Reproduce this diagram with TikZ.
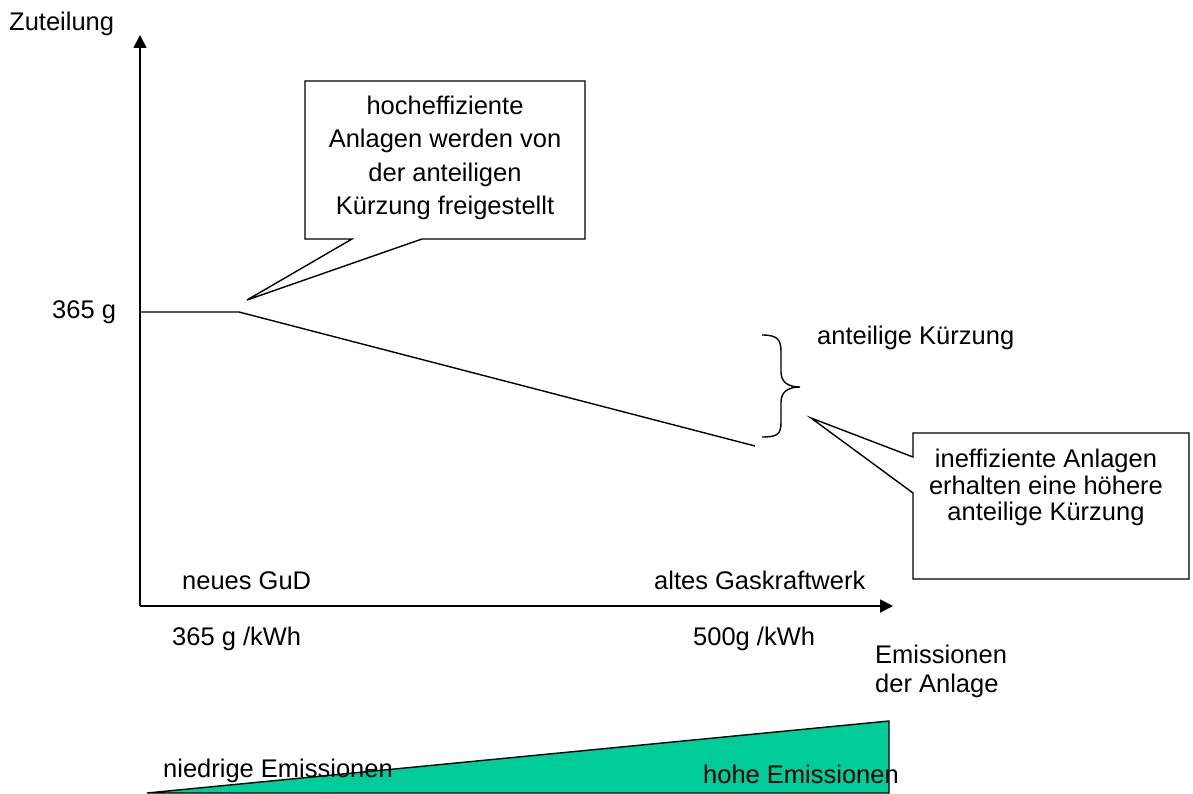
\documentclass[tikz,border=0pt]{standalone}
\usepackage{fontspec}
\setmainfont{Liberation Sans}
\usetikzlibrary{arrows.meta}
\definecolor{emgreen}{RGB}{0,204,153}
\begin{document}
\begin{tikzpicture}[x=1pt,y=-1pt,
  lbl/.style={inner sep=0pt,anchor=base west,font=\fontsize{25.5}{30}\selectfont},
  clbl/.style={inner sep=0pt,anchor=base,font=\fontsize{25.5}{30}\selectfont},
  axis/.style={line width=1.8pt,-{Triangle[length=13pt,width=13pt]}},
  thin/.style={line width=1.4pt},
  callout/.style={line width=1.4pt,fill=white,line join=miter}]
\useasboundingbox (0,0) rectangle (1193,794);
% axes
\coordinate (O) at (140,606);
\coordinate (Ytop) at (140,35);
\coordinate (Xend) at (893,606);
\draw[axis] (O) -- (Ytop);
\draw[axis] (O) -- (Xend);
% allocation line
\coordinate (L0) at (140,312);
\coordinate (L1) at (239,312);
\coordinate (L2) at (755,446);
\draw[thin] (L0) -- (L1) -- (L2);
% callout 1
\draw[callout] (305,81) -- (585,81) -- (585,239) -- (422,239) -- (247,300) -- (352,239) -- (305,239) -- cycle;
\node[clbl] (c1a) at (445,115) {hocheffiziente};
\node[clbl] (c1b) at (445,148) {Anlagen werden von};
\node[clbl] (c1c) at (445,182) {der anteiligen};
\node[clbl] (c1d) at (445,215) {Kürzung freigestellt};
% callout 2
\draw[callout] (913,433) -- (1189,433) -- (1189,579) -- (913,579) -- (913,493) -- (811,418) -- (913,457) -- cycle;
\node[clbl] (c2a) at (1046,467) {ineffiziente Anlagen};
\node[clbl] (c2b) at (1046,494) {erhalten eine höhere};
\node[clbl] (c2c) at (1046,520) {anteilige Kürzung};
% brace
\draw[thin] (762,335) .. controls (778,335) and (781,340) .. (781,352) -- (781,372)
  .. controls (781,382) and (788,387) .. (800,387)
  .. controls (788,387) and (781,392) .. (781,402) -- (781,422)
  .. controls (781,434) and (778,437) .. (762,437);
\node[lbl] (ak) at (817,344) {anteilige Kürzung};
% labels
\node[lbl] (zut) at (9,31) {Zuteilung};
\node[lbl] (y365) at (52,318) {365 g};
\node[lbl] (gud) at (182,589) {neues GuD};
\node[lbl] (gas) at (654,589) {altes Gaskraftwerk};
\node[lbl] (x365) at (172,645) {365 g /kWh};
\node[lbl] (x500) at (693,645) {500g /kWh};
\node[lbl] (em1) at (875,663) {Emissionen};
\node[lbl] (em2) at (875,692) {der Anlage};
% emission wedge
\draw[line width=1.4pt,fill=emgreen] (147,793) -- (889,721) -- (889,793) -- cycle;
\node[lbl] (nied) at (163,777) {niedrige Emissionen};
\node[lbl] (hoch) at (703,783) {hohe Emissionen};
\end{tikzpicture}
\end{document}
